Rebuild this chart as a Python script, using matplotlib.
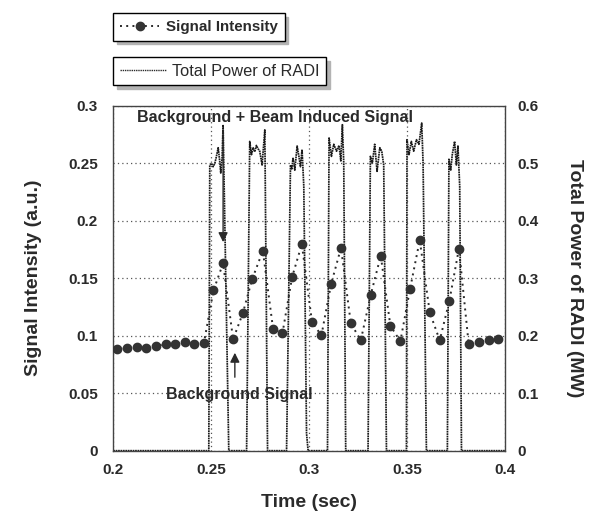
import numpy as np
import matplotlib
matplotlib.use("Agg")
import matplotlib.pyplot as plt
from matplotlib.lines import Line2D

plt.rcParams['font.family'] = ['Liberation Sans', 'DejaVu Sans']

# =========================================================
# DATA
# =========================================================

# signal intensity samples [sec], [a.u.]
sig_time = [0.2017, 0.2068, 0.2119, 0.2167, 0.2218, 0.2269, 0.2316, 0.2367,
            0.2415, 0.2463, 0.2512, 0.2561, 0.2612, 0.2662, 0.2709, 0.2764,
            0.2816, 0.2864, 0.2913, 0.2963, 0.3015, 0.3063, 0.3112, 0.3163,
            0.3213, 0.3264, 0.3315, 0.3366, 0.3415, 0.3466, 0.3515, 0.3565,
            0.3616, 0.3667, 0.3716, 0.3765, 0.3815, 0.3866, 0.3917, 0.3966]
sig_value = [0.0884, 0.0890, 0.0899, 0.0893, 0.0910, 0.0928, 0.0925, 0.0945,
             0.0928, 0.0937, 0.1395, 0.1630, 0.0969, 0.1197, 0.1490, 0.1739,
             0.1061, 0.1021, 0.1508, 0.1797, 0.1117, 0.1003, 0.1447, 0.1765,
             0.1108, 0.0960, 0.1357, 0.1696, 0.1087, 0.0951, 0.1403, 0.1832,
             0.1203, 0.0960, 0.1302, 0.1757, 0.0925, 0.0948, 0.0960, 0.0974]

# total RF power trace [sec], [MW]
pow_time = [0.2000, 0.2488,
            0.2493, 0.2502, 0.2510, 0.2519, 0.2527, 0.2536, 0.2544, 0.2549, 0.2556, 0.2561, 0.2590,
            0.2681, 0.2697, 0.2706, 0.2714, 0.2723, 0.2731, 0.2740, 0.2748, 0.2760, 0.2774, 0.2788,
            0.2885, 0.2905, 0.2912, 0.2918, 0.2927, 0.2939, 0.2949, 0.2956, 0.2964, 0.2973, 0.2987, 0.2995,
            0.3094, 0.3102, 0.3114, 0.3126, 0.3140, 0.3153, 0.3162, 0.3170, 0.3177, 0.3187,
            0.3301, 0.3313, 0.3323, 0.3335, 0.3347, 0.3361, 0.3371, 0.3381, 0.3395,
            0.3497, 0.3500, 0.3510, 0.3522, 0.3534, 0.3548, 0.3561, 0.3575, 0.3582, 0.3599,
            0.3706, 0.3714, 0.3723, 0.3731, 0.3743, 0.3752, 0.3760, 0.3769, 0.3778,
            0.4000]
pow_value = [0.0, 0.0,
             0.497, 0.500, 0.494, 0.500, 0.512, 0.527, 0.503, 0.483, 0.510, 0.567, 0.0,
             0.0, 0.538, 0.515, 0.527, 0.520, 0.531, 0.525, 0.521, 0.497, 0.558, 0.0,
             0.0, 0.497, 0.489, 0.510, 0.488, 0.530, 0.510, 0.494, 0.524, 0.460, 0.030, 0.0,
             0.0, 0.544, 0.512, 0.533, 0.521, 0.531, 0.504, 0.567, 0.500, 0.0,
             0.0, 0.512, 0.500, 0.533, 0.486, 0.527, 0.521, 0.497, 0.0,
             0.0, 0.541, 0.515, 0.538, 0.521, 0.541, 0.533, 0.570, 0.500, 0.0,
             0.0, 0.507, 0.488, 0.515, 0.538, 0.497, 0.530, 0.460, 0.0,
             0.0]

x_ticks = [0.2, 0.25, 0.3, 0.35, 0.4]
x_tick_labels = ['0.2', '0.25', '0.3', '0.35', '0.4']
y1_ticks = [0, 0.05, 0.1, 0.15, 0.2, 0.25, 0.3]
y1_tick_labels = ['0', '0.05', '0.1', '0.15', '0.2', '0.25', '0.3']
y2_ticks = [0, 0.1, 0.2, 0.3, 0.4, 0.5, 0.6]
y2_tick_labels = ['0', '0.1', '0.2', '0.3', '0.4', '0.5', '0.6']

# =========================================================
# PLOT
# =========================================================

ink = '#2a2a2a'

fig = plt.figure(figsize=(5.99, 5.11), dpi=100)
ax1 = fig.add_axes([0.189, 0.118, 0.654, 0.675])
ax2 = ax1.twinx()

ax2.plot(pow_time, pow_value, linestyle=(0, (1, 0.4)), color='#1a1a1a',
         linewidth=1.25, zorder=2)
ax1.plot(sig_time, sig_value, linestyle=(0, (1, 2.2)), color=ink,
         linewidth=1.4, marker='o', markersize=6,
         markerfacecolor='#333333', markeredgecolor='#333333', zorder=3)

ax1.set_zorder(ax2.get_zorder() + 1)
ax1.patch.set_visible(False)

ax1.set_xlim(0.2, 0.4)
ax1.set_ylim(0, 0.3)
ax2.set_ylim(0, 0.6)

ax1.set_xticks(x_ticks)
ax1.set_xticklabels(x_tick_labels)
ax1.set_yticks(y1_ticks)
ax1.set_yticklabels(y1_tick_labels)
ax2.set_yticks(y2_ticks)
ax2.set_yticklabels(y2_tick_labels)

for lab in ax1.get_xticklabels() + ax1.get_yticklabels() + ax2.get_yticklabels():
    lab.set_fontweight('bold')
    lab.set_fontsize(11)
    lab.set_color(ink)

ax1.tick_params(axis='y', length=0, pad=11)
ax1.tick_params(axis='x', length=0, pad=9)
ax2.tick_params(axis='y', length=0, pad=9)

ax1.grid(True, linestyle=(0, (1, 2.5)), color='#555555', linewidth=0.9)

for sp in ax1.spines.values():
    sp.set_linestyle((0, (1, 1)))
    sp.set_color('#444444')
    sp.set_linewidth(1.0)
for sp in ax2.spines.values():
    sp.set_visible(False)

ax1.set_xlabel('Time (sec)', fontsize=14, fontweight='bold', color=ink,
               labelpad=12)
ax1.set_ylabel('Signal Intensity (a.u.)', fontsize=14, fontweight='bold',
               color=ink, labelpad=19)
ax2.set_ylabel('Total Power of RADI (MW)', fontsize=14, fontweight='bold',
               color=ink, rotation=270, labelpad=32)

# annotations
ax1.text(0.2121, 0.290, 'Background + Beam Induced Signal', fontsize=11.6,
         fontweight='bold', color=ink, va='center', ha='left', zorder=5)
ax1.annotate('', xy=(0.2561, 0.179), xytext=(0.2561, 0.281),
             arrowprops=dict(arrowstyle='-|>', color=ink, lw=1.0,
                             mutation_scale=14), zorder=5)
ax1.text(0.2269, 0.0485, 'Background Signal', fontsize=11.5,
         fontweight='bold', color=ink, va='center', ha='left', zorder=5)
ax1.annotate('', xy=(0.2621, 0.0876), xytext=(0.2621, 0.0615),
             arrowprops=dict(arrowstyle='-|>', color=ink, lw=1.0,
                             mutation_scale=14), zorder=5)

# two separate legend boxes at the top
h_sig = Line2D([], [], linestyle=(0, (1, 2.2)), color=ink, linewidth=1.4,
               marker='o', markersize=6, markerfacecolor='#333333',
               markeredgecolor='#333333')
h_pow = Line2D([], [], linestyle=(0, (1, 0.6)), color=ink, linewidth=1.0)

shadow = {'ox': 2.5, 'oy': -2.5, 'shade': 0.3, 'alpha': 1}
leg1 = fig.legend([h_sig], ['Signal Intensity'], loc='upper left',
                  bbox_to_anchor=(0.189, 0.974), fancybox=False,
                  shadow=shadow, framealpha=1, edgecolor='black',
                  numpoints=1, handlelength=2.6, handletextpad=0.45,
                  borderpad=0.45, borderaxespad=0,
                  prop={'weight': 'bold', 'size': 10.9})
leg1.get_frame().set_linewidth(1.0)
leg2 = fig.legend([h_pow], ['Total Power of RADI'], loc='upper left',
                  bbox_to_anchor=(0.189, 0.888), fancybox=False,
                  shadow=shadow, framealpha=1, edgecolor='black',
                  handlelength=2.8, handletextpad=0.4,
                  borderpad=0.4, borderaxespad=0,
                  prop={'size': 11.8})
leg2.get_frame().set_linewidth(1.0)
for t in leg1.get_texts() + leg2.get_texts():
    t.set_color(ink)

plt.savefig('out.png', dpi=100)
